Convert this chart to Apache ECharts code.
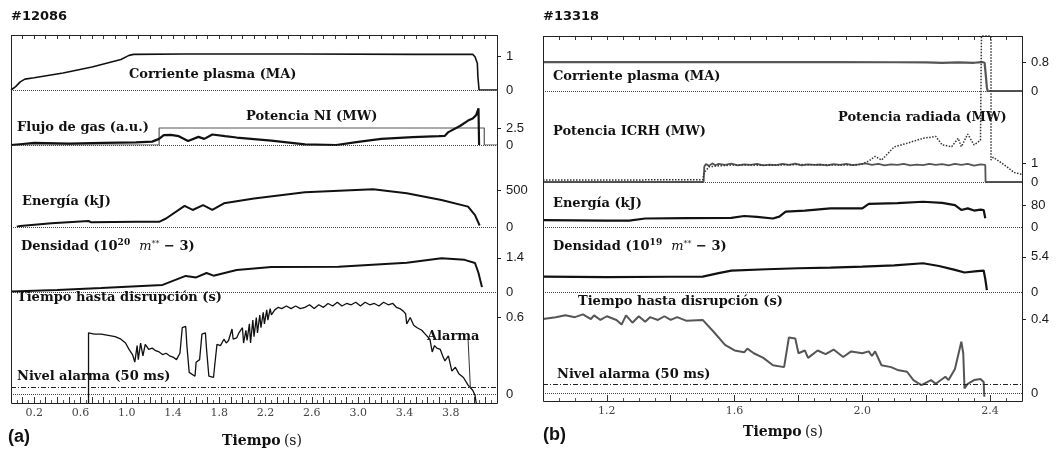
<!DOCTYPE html>
<html>
<head>
<meta charset="utf-8">
<script src="https://cdn.jsdelivr.net/npm/echarts@6/dist/echarts.min.js"></script>
<style>
  html, body { margin: 0; background: #fff; }
  #chart { width: 1060px; height: 452px; }
</style>
</head>
<body>
<div id="chart"></div>
<script>
// ---- datos panel (a) #12086 : [tiempo (s), valor] ----
const corrienteA = [[0,0],[0.04,0.1],[0.08,0.24],[0.12,0.32],[0.2,0.36],[0.45,0.5],[0.7,0.68],[0.95,0.9],[1.02,1.02],[1.06,1.05],[1.5,1.06],[2.5,1.06],[3.5,1.05],[3.99,1.05],[4.01,0.98],[4.03,0.79],[4.035,0.39],[4.045,0],[4.2,0]];
const potenciaNiA = [[0,0],[1.28,0],[1.28,2.5],[4.09,2.5],[4.09,0],[4.2,0]];
const flujoGasA = [[0,0],[0.1,0.15],[0.2,0.3],[0.5,0.2],[0.8,0.3],[1.08,0.4],[1.22,0.5],[1.28,0.9],[1.32,1.45],[1.38,1.5],[1.45,1.3],[1.53,0.6],[1.62,1.2],[1.67,0.9],[1.74,1.55],[1.85,1.3],[1.95,1.1],[2.25,0.65],[2.54,0.1],[2.81,0.0],[3.0,0.45],[3.2,0.9],[3.47,1.15],[3.7,1.3],[3.75,1.35],[3.78,1.9],[3.88,2.8],[3.95,3.6],[3.99,3.9],[4.02,4.4],[4.04,5.4],[4.045,0]];
const energiaA = [[0.05,5],[0.08,15],[0.35,50],[0.67,81],[0.69,65],[1.08,70],[1.28,70],[1.34,115],[1.5,285],[1.57,230],[1.66,295],[1.74,230],[1.84,320],[2.1,385],[2.54,470],[3.13,510],[3.42,455],[3.72,365],[3.95,275],[4.01,160],[4.05,20]];
const densidadA = [[0,0.02],[0.4,0.08],[0.78,0.16],[1.31,0.29],[1.51,0.66],[1.6,0.6],[1.69,0.78],[1.75,0.67],[1.95,0.9],[2.25,1.03],[2.83,1.04],[3.42,1.2],[3.72,1.39],[3.92,1.32],[4.01,1.19],[4.04,0.78],[4.07,0.2]];
const tiempoA = [[0.67,-0.1],[0.67,0.48],[0.72,0.47],[0.78,0.47],[0.84,0.46],[0.9,0.45],[0.95,0.43],[0.99,0.4],[1.02,0.35],[1.05,0.31],[1.07,0.25],[1.09,0.38],[1.1,0.27],[1.12,0.4],[1.14,0.3],[1.16,0.39],[1.19,0.35],[1.22,0.36],[1.25,0.34],[1.28,0.33],[1.31,0.31],[1.34,0.32],[1.37,0.3],[1.4,0.29],[1.43,0.27],[1.46,0.32],[1.48,0.52],[1.51,0.53],[1.52,0.38],[1.54,0.17],[1.59,0.14],[1.6,0.25],[1.63,0.27],[1.65,0.47],[1.68,0.48],[1.69,0.35],[1.71,0.14],[1.75,0.13],[1.76,0.22],[1.78,0.39],[1.81,0.38],[1.84,0.43],[1.86,0.4],[1.88,0.42],[1.91,0.51],[1.92,0.43],[1.95,0.44],[1.97,0.48],[2.0,0.52],[2.01,0.4],[2.03,0.5],[2.04,0.42],[2.06,0.55],[2.07,0.4],[2.09,0.58],[2.1,0.45],[2.12,0.6],[2.13,0.48],[2.15,0.62],[2.16,0.52],[2.18,0.64],[2.19,0.55],[2.21,0.66],[2.22,0.58],[2.24,0.67],[2.25,0.62],[2.28,0.66],[2.31,0.68],[2.34,0.67],[2.38,0.69],[2.42,0.67],[2.46,0.69],[2.5,0.67],[2.54,0.68],[2.58,0.7],[2.62,0.67],[2.66,0.7],[2.7,0.68],[2.74,0.71],[2.78,0.69],[2.82,0.72],[2.86,0.69],[2.9,0.71],[2.94,0.7],[2.98,0.72],[3.02,0.69],[3.06,0.72],[3.1,0.7],[3.14,0.71],[3.18,0.69],[3.22,0.72],[3.26,0.7],[3.3,0.71],[3.33,0.68],[3.36,0.67],[3.39,0.65],[3.41,0.63],[3.42,0.55],[3.45,0.6],[3.48,0.54],[3.51,0.52],[3.55,0.5],[3.58,0.47],[3.62,0.43],[3.64,0.33],[3.66,0.38],[3.68,0.36],[3.71,0.35],[3.73,0.3],[3.75,0.26],[3.78,0.3],[3.81,0.18],[3.84,0.21],[3.87,0.16],[3.91,0.13],[3.95,0.07],[3.99,0.03],[4.01,-0.01],[4.02,-0.07]];
const alarmaA = [[3.95,0.43],[3.97,0.05]];

// ---- datos panel (b) #13318 ----
const corrienteB = [[1.0,0.8],[1.3,0.8],[1.6,0.8],[1.9,0.8],[2.1,0.795],[2.2,0.79],[2.25,0.78],[2.3,0.79],[2.35,0.78],[2.375,0.8],[2.383,0.78],[2.387,0.4],[2.39,0.1],[2.393,-0.03],[2.4,0],[2.5,0]];
const icrhB = [[1.0,0],[1.503,0],[1.505,0.8],[1.51,0.95],[1.52,0.85],[1.53,0.98],[1.54,0.88],[1.55,0.95],[1.57,0.9],[1.59,0.97],[1.61,0.88],[1.63,0.93],[1.65,0.9],[1.67,0.96],[1.69,0.87],[1.71,0.92],[1.73,0.89],[1.75,0.95],[1.77,0.9],[1.79,0.97],[1.81,0.88],[1.83,0.93],[1.85,0.9],[1.87,0.92],[1.89,0.88],[1.91,0.94],[1.93,0.9],[1.95,0.95],[1.97,0.89],[1.99,0.93],[2.01,0.98],[2.03,0.9],[2.05,0.95],[2.07,0.88],[2.09,0.93],[2.11,0.9],[2.13,0.96],[2.15,0.88],[2.17,0.92],[2.19,0.89],[2.21,0.95],[2.23,0.9],[2.25,0.94],[2.27,0.87],[2.29,0.96],[2.31,0.9],[2.33,0.95],[2.35,0.86],[2.37,0.93],[2.385,0.9],[2.386,0],[2.5,0]];
const radiadaB = [[1.0,0.1],[1.2,0.1],[1.4,0.12],[1.5,0.12],[1.505,0.5],[1.52,0.8],[1.55,0.85],[1.6,0.9],[1.7,0.88],[1.8,0.92],[1.9,0.9],[1.98,0.9],[2.0,0.95],[2.02,1.1],[2.04,1.35],[2.06,1.15],[2.08,1.5],[2.1,1.85],[2.14,2.04],[2.19,2.3],[2.23,2.4],[2.25,1.95],[2.28,1.86],[2.3,2.3],[2.31,1.86],[2.33,2.52],[2.35,1.95],[2.37,2.2],[2.373,7.68],[2.403,7.68],[2.403,1.16],[2.41,1.3],[2.43,1.07],[2.455,0.77],[2.475,0.5],[2.5,0.4]];
const energiaB = [[1.0,25],[1.1,24],[1.2,23],[1.27,23],[1.32,31],[1.45,32],[1.59,33],[1.63,40],[1.67,37],[1.72,31],[1.74,38],[1.76,56],[1.82,60],[1.9,68],[2.0,68],[2.02,84],[2.11,87],[2.19,92],[2.25,88],[2.29,80],[2.31,62],[2.33,68],[2.35,60],[2.37,63],[2.38,62],[2.385,32]];
const densidadB = [[1.0,2.36],[1.2,2.3],[1.4,2.35],[1.5,2.36],[1.55,2.9],[1.59,3.3],[1.7,3.5],[1.8,3.65],[1.9,3.75],[2.0,3.9],[2.1,4.1],[2.19,4.42],[2.24,4.0],[2.29,3.4],[2.32,3.0],[2.36,3.2],[2.38,3.3],[2.385,2.0],[2.39,0.3]];
const tiempoB = [[1.0,0.4],[1.04,0.41],[1.07,0.42],[1.1,0.41],[1.125,0.425],[1.15,0.4],[1.16,0.42],[1.18,0.395],[1.2,0.415],[1.23,0.395],[1.246,0.37],[1.26,0.42],[1.28,0.38],[1.3,0.415],[1.32,0.385],[1.335,0.41],[1.36,0.395],[1.38,0.415],[1.4,0.395],[1.42,0.41],[1.45,0.39],[1.5,0.395],[1.535,0.33],[1.57,0.26],[1.6,0.23],[1.63,0.22],[1.64,0.24],[1.66,0.215],[1.69,0.19],[1.72,0.15],[1.755,0.14],[1.76,0.145],[1.77,0.3],[1.79,0.295],[1.8,0.215],[1.82,0.23],[1.83,0.19],[1.86,0.23],[1.885,0.21],[1.91,0.235],[1.94,0.195],[1.965,0.225],[2.0,0.215],[2.02,0.225],[2.03,0.2],[2.04,0.225],[2.06,0.15],[2.09,0.14],[2.11,0.125],[2.14,0.115],[2.16,0.07],[2.185,0.043],[2.215,0.07],[2.23,0.05],[2.26,0.088],[2.27,0.07],[2.29,0.13],[2.31,0.277],[2.316,0.215],[2.32,0.025],[2.33,0.05],[2.35,0.07],[2.37,0.076],[2.38,0.06],[2.382,-0.02]];

// ---- etiquetas de ejes ----
const xLabelsA = [0.2,0.6,1.0,1.4,1.8,2.2,2.6,3.0,3.4,3.8];
const xLabelsB = [1.2,1.6,2.0,2.4];
const yTicksA = [1, 2.5, 500, 1.4, 0.6];
const yTicksB = [0.8, 1, 80, 5.4, 0.4];
const alarmLevel = 0.05;

const SERIF = '"DejaVu Serif", serif';
const SANS = '"Liberation Sans", Arial, sans-serif';

const black = (w) => ({ color: '#111', width: w });
const gray = (w) => ({ color: '#555', width: w });

const panels = [
  {
    left: 11, width: 486, edges: [35, 90, 145, 227, 292, 403],
    xMin: 0, xMax: 4.2, xStep: 0.1, minorSplit: 2, topStep: 0.1, xLabels: xLabelsA,
    rows: [
      { yMin: 0, yMax: 1.62, tick: yTicksA[0], series: [{ data: corrienteA, style: black(1.6) }] },
      { yMin: 0, yMax: 8.1, tick: yTicksA[1], series: [{ data: potenciaNiA, style: gray(1.2) }, { data: flujoGasA, style: black(2.2) }] },
      { yMin: 0, yMax: 1108, tick: yTicksA[2], series: [{ data: energiaA, style: black(2) }] },
      { yMin: 0, yMax: 2.67, tick: yTicksA[3], series: [{ data: densidadA, style: black(2) }] },
      { yMin: -0.07, yMax: 0.8, tick: yTicksA[4], alarm: alarmaA, series: [{ data: tiempoA, style: black(1.3) }] }
    ]
  },
  {
    left: 543, width: 479, edges: [36, 91, 182, 227, 292, 401],
    xMin: 1.0, xMax: 2.5, xStep: 0.2, minorSplit: 4, topStep: 0.05, xLabels: xLabelsB,
    rows: [
      { yMin: 0, yMax: 1.52, tick: yTicksB[0], series: [{ data: corrienteB, style: gray(2.2) }] },
      { yMin: 0, yMax: 4.79, tick: yTicksB[1], series: [{ data: icrhB, style: gray(1.8) }, { data: radiadaB, style: { color: '#333', width: 1.5, type: 'dotted' }, clip: false }] },
      { yMin: 0, yMax: 164, tick: yTicksB[2], series: [{ data: energiaB, style: black(2.2) }] },
      { yMin: 0, yMax: 10, tick: yTicksB[3], series: [{ data: densidadB, style: black(2.2) }] },
      { yMin: -0.043, yMax: 0.546, tick: yTicksB[4], series: [{ data: tiempoB, style: gray(2) }] }
    ]
  }
];

const option = { animation: false, backgroundColor: '#fff', grid: [], xAxis: [], yAxis: [], series: [], graphic: [] };

panels.forEach(function (p) {
  p.rows.forEach(function (row, ri) {
    const g = option.grid.length;
    const last = ri === p.rows.length - 1;
    option.grid.push({ left: p.left, width: p.width, top: p.edges[ri], height: p.edges[ri + 1] - p.edges[ri] });
    const xi = option.xAxis.length;
    option.xAxis.push({
      gridIndex: g, type: 'value', min: p.xMin, max: p.xMax, interval: p.xStep,
      axisLine: { show: false, onZero: false }, splitLine: { show: false },
      axisTick: { show: last, inside: true, length: 6, lineStyle: { color: '#333' } },
      minorTick: { show: last, splitNumber: p.minorSplit, length: 3, lineStyle: { color: '#555' } },
      axisLabel: { show: last, customValues: p.xLabels, formatter: (v) => v.toFixed(1), margin: 5, color: '#444', fontFamily: SERIF, fontSize: 11 }
    });
    if (ri === 0) {
      // ticks del borde superior
      option.xAxis.push({
        gridIndex: g, type: 'value', position: 'top', min: p.xMin, max: p.xMax, interval: p.topStep,
        axisLine: { show: false, onZero: false }, splitLine: { show: false }, axisLabel: { show: false },
        axisTick: { inside: true, length: 4, lineStyle: { color: '#333' } }
      });
    }
    option.yAxis.push({
      gridIndex: g, type: 'value', position: 'right', min: row.yMin, max: row.yMax,
      axisLine: { show: false, onZero: false }, splitLine: { show: false },
      axisTick: { show: true, customValues: [row.tick], length: 4, lineStyle: { color: '#222' } },
      axisLabel: { customValues: [0, row.tick], formatter: (v) => String(v), margin: 9, color: '#1a1a1a', fontFamily: SANS, fontSize: 13 }
    });
    row.series.forEach(function (s, si) {
      const ser = {
        type: 'line', xAxisIndex: xi, yAxisIndex: g, data: s.data, showSymbol: false, symbol: 'none',
        lineStyle: s.style, silent: true, clip: s.clip !== false, z: 3
      };
      if (si === 0) {
        const lines = [{ yAxis: 0, lineStyle: { color: '#444', width: 1, type: 'dotted' } }];
        if (last) lines.push({ yAxis: alarmLevel, lineStyle: { color: '#222', width: 1.2, type: [5, 2, 1, 2] } });
        if (row.alarm) lines.push([{ coord: row.alarm[0], lineStyle: { color: '#333', width: 1, type: 'solid' } }, { coord: row.alarm[1] }]);
        ser.markLine = { silent: true, symbol: ['none', 'none'], label: { show: false }, animation: false, data: lines };
      }
      option.series.push(ser);
    });
  });
  // marco del panel
  const top = p.edges[0], bottom = p.edges[p.edges.length - 1];
  option.graphic.push({
    type: 'rect', silent: true, z: 10,
    shape: { x: p.left + 0.5, y: top + 0.5, width: p.width, height: bottom - top },
    style: { fill: 'none', stroke: '#222', lineWidth: 1 }
  });
});

function txt(x, y, text, size, rich) {
  const st = { text: text, x: x, y: y, fill: '#111', font: 'bold ' + size + 'px ' + SERIF, textVerticalAlign: 'middle' };
  if (rich) st.rich = rich;
  return { type: 'text', silent: true, z: 20, style: st };
}
const dens = {
  b: { fontFamily: SERIF, fontWeight: 'bold', fontSize: 13, fill: '#111' },
  sup: { fontFamily: SERIF, fontWeight: 'bold', fontSize: 9, fill: '#111', padding: [0, 0, 8, 0] },
  i: { fontFamily: SERIF, fontStyle: 'italic', fontSize: 13, fill: '#111' },
  st: { fontFamily: SERIF, fontSize: 8, fill: '#111', padding: [0, 0, 7, 0] }
};
const tiempoRich = {
  b: { fontFamily: SERIF, fontWeight: 'bold', fontSize: 14, fill: '#111' },
  r: { fontFamily: SERIF, fontSize: 14, fill: '#111' }
};

option.graphic.push(
  { type: 'text', silent: true, style: { text: '#12086', x: 11, y: 17, font: 'bold 13px "DejaVu Sans", sans-serif', fill: '#111', textVerticalAlign: 'middle' } },
  { type: 'text', silent: true, style: { text: '#13318', x: 543, y: 17, font: 'bold 13px "DejaVu Sans", sans-serif', fill: '#111', textVerticalAlign: 'middle' } },
  txt(129, 75, 'Corriente plasma (MA)', 13),
  txt(246, 117, 'Potencia NI (MW)', 13),
  txt(17, 128, 'Flujo de gas (a.u.)', 13),
  txt(22, 202, 'Energía (kJ)', 13),
  txt(21, 247, '{b|Densidad (10}{sup|20}{b|  }{i|m}{st|**}{b| − 3)}', 13, dens),
  txt(17, 298, 'Tiempo hasta disrupción (s)', 13),
  txt(17, 377, 'Nivel alarma (50 ms)', 13),
  txt(427, 337, 'Alarma', 13),
  txt(553, 77, 'Corriente plasma (MA)', 13),
  txt(553, 132, 'Potencia ICRH (MW)', 13),
  txt(838, 118, 'Potencia radiada (MW)', 13),
  txt(553, 204, 'Energía (kJ)', 13),
  txt(553, 247, '{b|Densidad (10}{sup|19}{b|  }{i|m}{st|**}{b| − 3)}', 13, dens),
  txt(578, 302, 'Tiempo hasta disrupción (s)', 13),
  txt(557, 375, 'Nivel alarma (50 ms)', 13),
  { type: 'text', silent: true, style: { text: '(a)', x: 8, y: 437, font: 'bold 18px "Liberation Sans", Arial, sans-serif', fill: '#111', textVerticalAlign: 'middle' } },
  { type: 'text', silent: true, style: { text: '(b)', x: 543, y: 435, font: 'bold 18px "Liberation Sans", Arial, sans-serif', fill: '#111', textVerticalAlign: 'middle' } },
  { type: 'text', silent: true, style: { text: '{b|Tiempo} {r|(s)}', x: 262, y: 441, textAlign: 'center', textVerticalAlign: 'middle', rich: tiempoRich } },
  { type: 'text', silent: true, style: { text: '{b|Tiempo} {r|(s)}', x: 783, y: 432, textAlign: 'center', textVerticalAlign: 'middle', rich: tiempoRich } }
);

const chart = echarts.init(document.getElementById('chart'), null, { renderer: 'canvas' });
chart.setOption(option);
</script>
</body>
</html>
